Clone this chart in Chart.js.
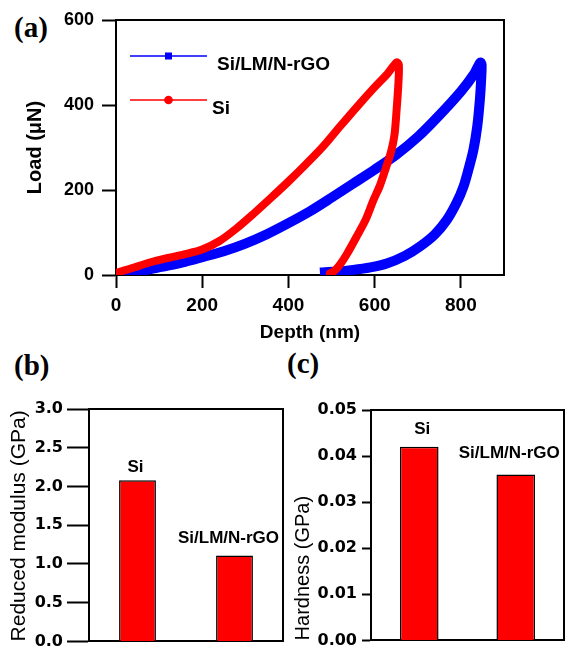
<!DOCTYPE html>
<html><head><meta charset="utf-8">
<script src="https://cdn.jsdelivr.net/npm/chart.js@4.4.1/dist/chart.umd.min.js"></script>
<style>
html,body{margin:0;padding:0;background:#fff;width:573px;height:655px;overflow:hidden;position:relative}
canvas{position:absolute}
.lab{position:absolute;font-family:"Liberation Serif","Times New Roman",serif;font-weight:bold;font-size:29px;line-height:1;color:#000;white-space:nowrap}
</style></head><body>
<div class="lab" style="left:14px;top:13px">(a)</div>
<div class="lab" style="left:14px;top:351px">(b)</div>
<div class="lab" style="left:287px;top:349px">(c)</div>
<canvas id="ca" width="573" height="355" style="left:0;top:0"></canvas>
<canvas id="cb" width="290" height="325" style="left:0;top:330px"></canvas>
<canvas id="cc" width="283" height="325" style="left:290px;top:330px"></canvas>
<script>
// ---------- Data: panel (a) load-depth curves ----------
const seriesNames = ['Si/LM/N-rGO', 'Si'];
const rgoDepth = [0,40,80,120,160,200,250,300,350,400,450,500,550,600,650,700,750,800,830,845,
                  848,847,844,838,829,818,806,790,767,740,705,670,628,590,550,510,473];
const rgoLoad  = [0,6,14,22,31,42,56,74,96,122,150,182,215,248,283,325,376,432,472,500,
                  495,460,412,350,294,250,208,170,129,96,67,45,27,18,12,8,6];
const siDepth  = [0,40,80,120,160,200,240,280,320,360,400,440,480,520,560,600,630,651,
                  656,655,651,646,638,626,612,597,580,558,536,520,507,496];
const siLoad   = [5,17,30,40,49,60,80,110,145,182,220,260,302,350,397,442,474,500,
                  495,450,390,330,290,252,210,176,132,90,50,25,10,4];
const depthTicks = [0,200,400,600,800];
const depthTickLabels = ['0','200','400','600','800'];
const loadTicks = [0,200,400,600];
const loadTickLabels = ['0','200','400','600'];

// ---------- Data: panels (b) and (c) ----------
const barCategories = ['Si', 'Si/LM/N-rGO'];
const modulusValues = [2.08, 1.11];
const hardnessValues = [0.042, 0.036];
const modulusTicks = [0,0.5,1,1.5,2,2.5,3];
const modulusTickLabels = ['0.0','0.5','1.0','1.5','2.0','2.5','3.0'];
const hardnessTicks = [0,0.01,0.02,0.03,0.04,0.05];
const hardnessTickLabels = ['0.00','0.01','0.02','0.03','0.04','0.05'];

const SANS = '"Liberation Sans", Arial, sans-serif';
const WIDE = '"DejaVu Sans", sans-serif';
Chart.defaults.animation = false;
Chart.defaults.color = '#000';

const toPts = (xs, ys) => xs.map((x, i) => ({x, y: ys[i]}));
const fixTicks = (vals) => (s) => { s.ticks = vals.map(v => ({value: v})); };
const lbl = (labels) => (v, i) => labels[i];

// frame axes (top / right border of plot box)
function frameAxis(pos, type) {
  return {
    type, position: pos, display: true,
    ticks: {display: false},
    grid: {display: false},
    border: {display: true, color: '#000', width: 2},
    afterFit: (s) => { if (pos === 'top') s.height = 0; else s.width = 0; }
  };
}

// legend drawn inside plot (a)
const lineLegend = {
  id: 'lineLegend',
  afterDraw(chart, args, opts) {
    const {ctx, chartArea: a} = chart;
    chart.data.datasets.forEach((ds, i) => {
      const y = a.top + opts.top + i * opts.spacing;
      const x0 = a.left + opts.left, x1 = x0 + opts.lineLen, xm = (x0 + x1) / 2;
      ctx.save();
      ctx.strokeStyle = ds.borderColor; ctx.lineWidth = 1.5;
      ctx.beginPath(); ctx.moveTo(x0, y); ctx.lineTo(x1, y); ctx.stroke();
      ctx.fillStyle = ds.borderColor;
      if (ds.pointStyle === 'rect') ctx.fillRect(xm - 3.5, y - 3.5, 7, 7);
      else { ctx.beginPath(); ctx.arc(xm, y, 4.3, 0, Math.PI * 2); ctx.fill(); }
      ctx.fillStyle = '#000'; ctx.font = opts.font; ctx.textBaseline = 'alphabetic'; ctx.textAlign = 'left';
      ctx.fillText(ds.label, x1 + opts.gap[i], y + opts.baseline);
      ctx.restore();
    });
  }
};

// category names above bars
const barLabels = {
  id: 'barLabels',
  afterDatasetsDraw(chart, args, opts) {
    if (!opts.gap) return;
    const {ctx} = chart;
    const meta = chart.getDatasetMeta(0);
    ctx.save();
    ctx.font = opts.font; ctx.fillStyle = '#000'; ctx.textAlign = 'center'; ctx.textBaseline = 'alphabetic';
    meta.data.forEach((bar, i) => {
      ctx.fillText(chart.data.labels[i], bar.x + opts.dx[i], bar.y - opts.gap[i]);
    });
    ctx.restore();
  }
};

// ---------- Panel (a) ----------
new Chart(document.getElementById('ca'), {
  type: 'scatter',
  data: {
    datasets: [
      {label: seriesNames[0], data: toPts(rgoDepth, rgoLoad), showLine: true, borderColor: '#0000ff',
       backgroundColor: '#0000ff', borderWidth: 10, pointRadius: 0, pointStyle: 'rect', tension: 0.3,
       borderJoinStyle: 'round', borderCapStyle: 'butt', order: 1},
      {label: seriesNames[1], data: toPts(siDepth, siLoad), showLine: true, borderColor: '#ff0000',
       backgroundColor: '#ff0000', borderWidth: 8, pointRadius: 0, pointStyle: 'circle', tension: 0.3,
       borderJoinStyle: 'round', borderCapStyle: 'round', order: 0}
    ]
  },
  options: {
    responsive: false,
    layout: {padding: {left: 0, top: 20, right: 69, bottom: 0}},
    plugins: {
      legend: {display: false}, tooltip: {enabled: false},
      lineLegend: {top: 36, spacing: 44, left: 14, lineLen: 77, gap: [10, 5], baseline: 14,
                   font: 'bold 19px ' + SANS}
    },
    scales: {
      x: {
        type: 'linear', min: 0, max: 900, position: 'bottom',
        afterBuildTicks: fixTicks(depthTicks),
        ticks: {callback: lbl(depthTickLabels), font: {family: SANS, size: 19, weight: 'bold'}, padding: 6, maxRotation: 0},
        grid: {drawOnChartArea: false, drawTicks: true, tickLength: 13, tickWidth: 2, tickColor: '#000', color: '#000'},
        border: {display: true, color: '#000', width: 2},
        title: {display: true, text: 'Depth (nm)', font: {family: SANS, size: 19, weight: 'bold'}, padding: {top: 0, bottom: 11}},
        afterFit: (s) => { s.height = 80; }
      },
      y: {
        type: 'linear', min: 0, max: 600, position: 'left',
        afterBuildTicks: fixTicks(loadTicks),
        ticks: {callback: lbl(loadTickLabels), font: {family: SANS, size: 18, weight: 'bold'}, padding: 8},
        grid: {drawOnChartArea: false, drawTicks: true, tickLength: 14, tickWidth: 2, tickColor: '#000', color: '#000'},
        border: {display: true, color: '#000', width: 2},
        title: {display: true, text: 'Load (\u03bcN)', font: {family: SANS, size: 20, weight: 'bold'}, padding: {top: 23, bottom: 0}},
        afterFit: (s) => { s.width = 116; }
      },
      xTop: frameAxis('top', 'linear'),
      yRight: frameAxis('right', 'linear')
    }
  },
  plugins: [lineLegend]
});

// ---------- Bar panels ----------
function barChart(id, values, ticks, tickLabels, max, title, geo) {
  return new Chart(document.getElementById(id), {
    type: 'bar',
    data: {
      labels: barCategories,
      datasets: [{data: values, backgroundColor: '#ff0000', borderColor: '#000', borderWidth: 1.5,
                  categoryPercentage: 1, barPercentage: geo.bar}]
    },
    options: {
      responsive: false,
      layout: {padding: {left: 0, top: geo.top, right: geo.right, bottom: 0}},
      plugins: {
        legend: {display: false}, tooltip: {enabled: false},
        barLabels: {font: 'bold 17px ' + SANS, gap: geo.gap, dx: geo.dx}
      },
      scales: {
        x: {
          type: 'category', position: 'bottom', offset: true,
          ticks: {display: false}, grid: {display: false},
          border: {display: true, color: '#000', width: 2},
          afterFit: (s) => { s.height = geo.bottom; }
        },
        y: {
          type: 'linear', min: 0, max: max, position: 'left',
          afterBuildTicks: fixTicks(ticks),
          ticks: {callback: lbl(tickLabels), font: {family: WIDE, size: 16, weight: 'bold'}, padding: geo.pad},
          grid: {drawOnChartArea: false, drawTicks: true, tickLength: geo.tick, tickWidth: 2, tickColor: '#000', color: '#000'},
          border: {display: true, color: '#000', width: 2},
          title: {display: true, text: title, align: 'start', font: {family: SANS, size: geo.tsize}, padding: {top: geo.tpad, bottom: 0}},
          afterFit: (s) => { s.width = geo.left; }
        },
        xTop: frameAxis('top', 'category'),
        yRight: frameAxis('right', 'linear')
      }
    },
    plugins: [barLabels]
  });
}

barChart('cb', modulusValues, modulusTicks, modulusTickLabels, 3, 'Reduced modulus (GPa)',
  {left: 89, top: 79, right: 7, bottom: 12, bar: 0.38, tick: 22, pad: 4, tsize: 21, tpad: 7,
   gap: [8, 12], dx: [-2, -6]});
barChart('cc', hardnessValues, hardnessTicks, hardnessTickLabels, 0.05, 'Hardness (GPa)',
  {left: 81, top: 80, right: 9, bottom: 10, bar: 0.4, tick: 9, pad: 5, tsize: 20, tpad: 1,
   gap: [13, 17], dx: [3, -6.5]});
</script>
</body></html>
